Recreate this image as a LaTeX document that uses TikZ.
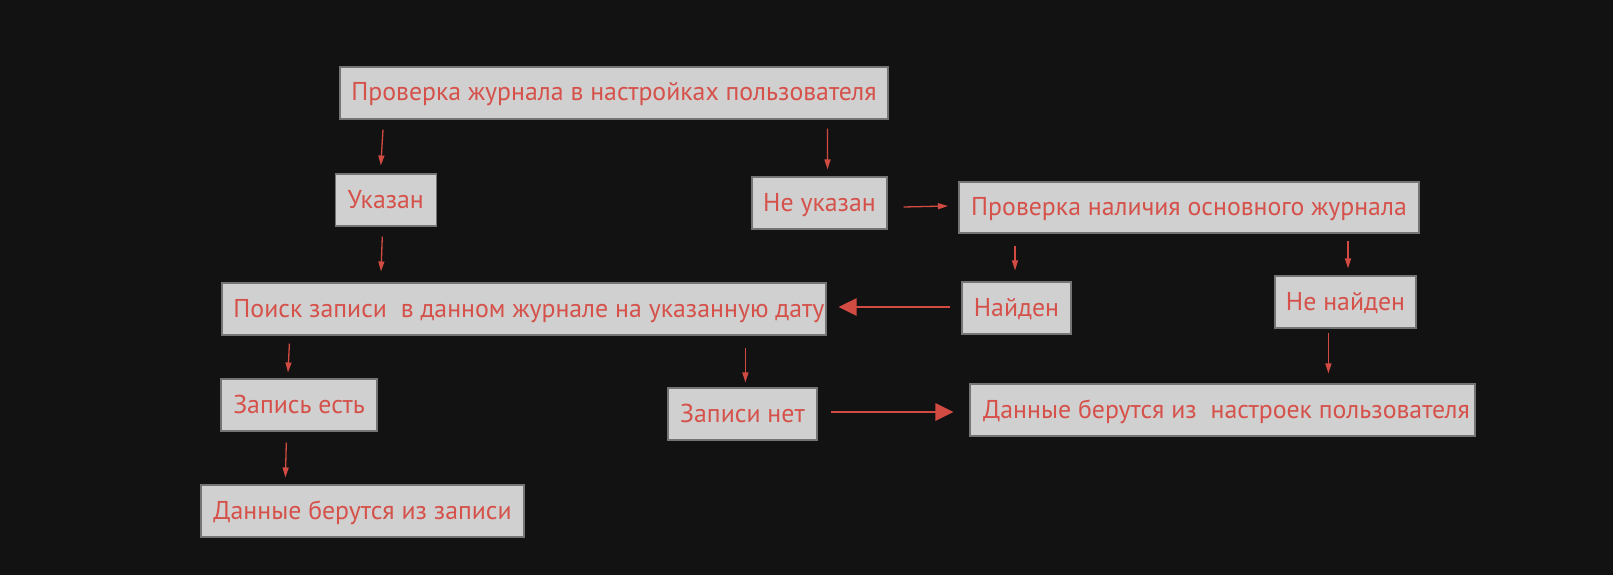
\documentclass[tikz,border=0pt]{standalone}
\usepackage{fontspec}
\setmainfont{PT Sans}
\usetikzlibrary{calc,arrows.meta}
\definecolor{bg}{HTML}{121212}
\definecolor{boxfill}{HTML}{D0D0D0}
\definecolor{boxline}{HTML}{747474}
\definecolor{txt}{HTML}{D5514A}
\definecolor{arr}{HTML}{D24B42}
\tikzset{
  box/.style={draw=boxline, line width=1.1pt, fill=boxfill, text=txt, font=\fontsize{25.8}{27}\selectfont,
    inner sep=0pt, text height=20pt, text depth=4pt, minimum height=52pt, anchor=center},
  thinarrow/.style={draw=arr, line width=1.3pt, -{Triangle[length=10pt,width=6pt]}},
  thickarrow/.style={draw=arr, line width=2.8pt, -{Triangle[length=18pt,width=17pt]}}
}
\begin{document}
\begin{tikzpicture}[x=1pt,y=-1pt]
\fill[bg] (0,0) rectangle (1613,575);
\useasboundingbox (0,0) rectangle (1613,575);

\node[box, minimum width=548pt] (n1) at (614,93) {Проверка журнала в настройках пользователя};
\node[box, minimum width=101pt] (n2) at (385.8,200) {Указан};
\node[box, minimum width=135pt] (n3) at (819.5,203) {Не указан};
\node[box, minimum width=460pt, minimum height=51pt] (n4) at (1189,207.5) {Проверка наличия основного журнала};
\node[box, minimum width=604pt] (n5) at (524,309) {\hspace*{10pt}Поиск записи\ \ в данном журнале на указанную дату};
\node[box, minimum width=109pt] (n6) at (1016.5,308) {Найден};
\node[box, minimum width=141pt] (n7) at (1345.5,302) {Не найден};
\node[box, minimum width=156pt] (n8) at (299,405) {Запись есть};
\node[box, minimum width=149pt] (n9) at (742.5,414) {Записи нет};
\node[box, minimum width=505pt] (n10) at (1222.5,410) {\hspace*{8pt}Данные берутся из\ \ настроек пользователя};
\node[box, minimum width=323pt] (n11) at (362.5,511) {Данные берутся из записи};

% thin arrows
\draw[thinarrow] ($(n1.south)+(-231,10)$) -- ($(n2.north)+(-5,-8)$);
\draw[thinarrow] ($(n1.south)+(213.4,9)$) -- ($(n3.north)+(8,-7)$);
\draw[thinarrow] ($(n2.south)+(-3.5,10)$) -- ($(n5.north)+(-143,-11)$);
\draw[thinarrow] ($(n3.east)+(16,4)$) -- ($(n4.west)+(-10.5,-1.5)$);
\draw[thinarrow] ($(n4.south)+(-174,12)$) -- ($(n6.north)+(-1.5,-11)$);
\draw[thinarrow] ($(n4.south)+(159,7)$) -- ($(n7.north)+(2.5,-7)$);
\draw[thinarrow] ($(n5.south)+(-234.6,8)$) -- ($(n8.north)+(-11,-6)$);
\draw[thinarrow] ($(n5.south)+(221.4,12)$) -- ($(n9.north)+(2.9,-5)$);
\draw[thinarrow] ($(n7.south)+(-17.1,4)$) -- ($(n10.north)+(105.9,-10)$);
\draw[thinarrow] ($(n8.south)+(-12.7,11)$) -- ($(n11.north)+(-77.1,-7)$);
% thick arrows
\draw[thickarrow] ($(n6.west)+(-11.3,-1)$) -- ($(n5.east)+(12,-2)$);
\draw[thickarrow] ($(n9.east)+(13.5,-2)$) -- ($(n10.west)+(-16,2)$);
\end{tikzpicture}
\end{document}
